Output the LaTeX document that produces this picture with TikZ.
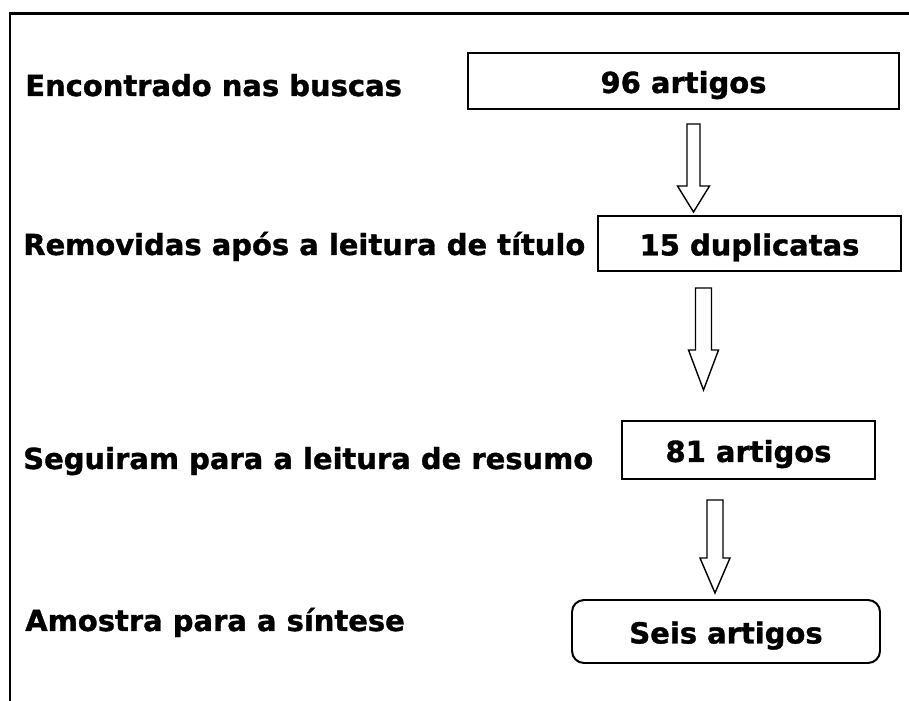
\documentclass[tikz,border=0pt]{standalone}
\usepackage{fontspec}
\setmainfont{DejaVu Sans}[BoldFeatures={FakeBold=1.2}]
\usetikzlibrary{calc}

\newcommand{\pix}{0.025cm}
% hollow block arrow: start, tip, shaft half width, head half width, head length
\newcommand{\blockarr}[5]{%
  \draw[blk] ($(#1)+(-#3,0)$) -- ($(#2)+(-#3,-#5)$) -- ($(#2)+(-#4,-#5)$) -- (#2)
    -- ($(#2)+(#4,-#5)$) -- ($(#2)+(#3,-#5)$) -- ($(#1)+(#3,0)$) -- cycle;
}

\begin{document}
\begin{tikzpicture}[
    x=\pix, y=-\pix,
    font=\fontsize{20.6}{25}\selectfont\bfseries,
    box/.style 2 args={draw=black, line width=1.4pt, inner sep=0pt,
        minimum width=#1*\pix, minimum height=#2*\pix,
        text height=17pt, text depth=0pt},
    lab/.style={anchor=base west, inner sep=0pt},
    blk/.style={draw=black, line width=1pt, fill=white, line join=miter},
    frame/.style={line width=1.8pt},
  ]
  \useasboundingbox (0,0) rectangle (909,701);
  \draw[frame] (10,705) -- (10,13.5) -- (912,13.5);

  \node[box={431}{56}] (n96) at (683.5,81) {96 artigos};
  \node[box={303}{55}] (n15) at (749.5,243.5) {15 duplicatas};
  \node[box={253}{58}] (n81) at (748.5,450) {81 artigos};
  \node[box={308}{63}, rounded corners=12*\pix] (nseis) at (726,631.5) {Seis artigos};

  \node[lab] (l1) at (25,96) {Encontrado nas buscas};
  \node[lab] (l2) at (23,255) {Removidas após a leitura de título};
  \node[lab] (l3) at (23,469) {Seguiram para a leitura de resumo};
  \node[lab] (l4) at (25,631) {Amostra para a síntese};

  \coordinate (a1s) at (693.5,124);
  \coordinate (a1e) at (693.5,212);
  \coordinate (a2s) at (703.5,288);
  \coordinate (a2e) at (703.5,390);
  \coordinate (a3s) at (715,500);
  \coordinate (a3e) at (715,593);
  \blockarr{a1s}{a1e}{6.5}{16}{26}
  \blockarr{a2s}{a2e}{8}{15}{40}
  \blockarr{a3s}{a3e}{8}{15}{35}

\end{tikzpicture}
\end{document}
